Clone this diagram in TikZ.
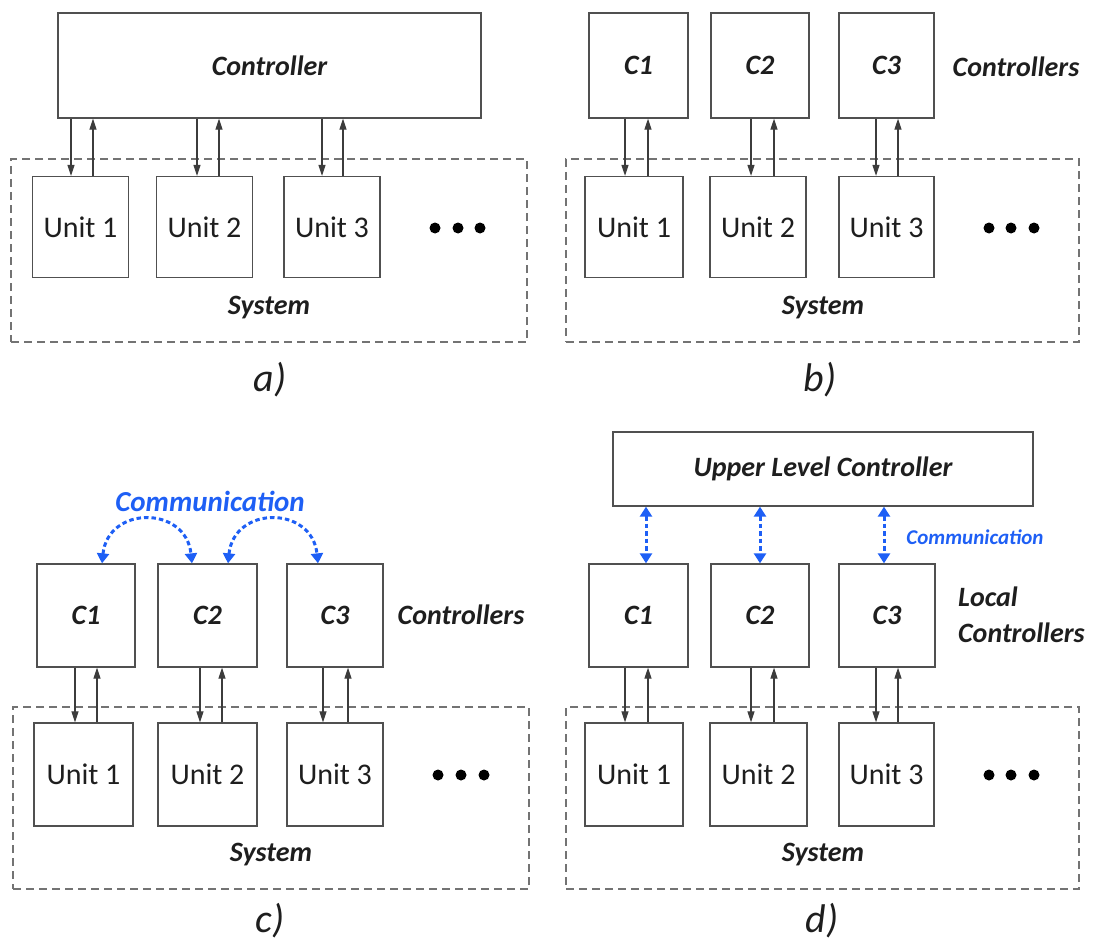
\documentclass[tikz,border=0pt]{standalone}
\usepackage{fontspec}
\setmainfont{Carlito}
\usetikzlibrary{arrows.meta}
\definecolor{boxc}{RGB}{80,80,80}
\definecolor{arrc}{RGB}{60,60,60}
\definecolor{dashc}{RGB}{115,115,115}
\definecolor{commc}{RGB}{30,95,245}
\definecolor{txtc}{RGB}{30,30,30}
\newcommand{\ctrlunit}[4]{%
  \coordinate (tmpd) at ([xshift=#3]#2.north);
  \draw[sigarrow] (tmpd |- #1.south) -- (tmpd);
  \coordinate (tmpu) at ([xshift=#4]#2.north);
  \draw[sigarrow] (tmpu) -- (tmpu |- #1.south);
}
\tikzset{
  unitbox/.style={draw=boxc, line width=1.3pt, minimum width=96pt, minimum height=101pt, inner sep=0pt, font=\fontsize{30}{34}\selectfont, text=txtc},
  ctrlbox/.style={draw=boxc, line width=1.3pt, minimum width=97pt, minimum height=104pt, inner sep=0pt, font=\fontsize{28}{34}\selectfont\bfseries\itshape, text=txtc},
  sysbox/.style={draw=dashc, line width=1.3pt, dash pattern=on 8pt off 5pt, inner sep=0pt},
  lbl/.style={font=\fontsize{28}{36}\selectfont\bfseries\itshape, text=txtc, inner sep=0pt},
  panel/.style={font=\fontsize{40}{48}\selectfont\itshape, text=txtc, inner sep=0pt},
  dotm/.style={circle, fill=black, minimum size=11pt, inner sep=0pt},
  sigarrow/.style={draw=arrc, line width=1.2pt, -{Triangle[length=11pt,width=7pt]}},
  comm/.style={draw=commc, line width=3pt, dash pattern=on 4.5pt off 3pt, {Triangle[length=10pt,width=12pt]}-{Triangle[length=10pt,width=12pt]}},
  commtxt/.style={font=\fontsize{29}{34}\selectfont\bfseries\itshape, text=commc, inner sep=0pt}
}
\begin{document}
\begin{tikzpicture}[x=1pt,y=-1pt]
\useasboundingbox (0,0) rectangle (1097,947);

% ---------------- panel a ----------------
\node[sysbox, minimum width=516pt, minimum height=183pt] (sysA) at (269,250.5) {};
\node[ctrlbox, minimum width=423pt, minimum height=105pt] (ctrlA) at (269.5,65.5) {Controller};
\node[unitbox] (ua1) at (80.5,227) {Unit 1};
\node[unitbox] (ua2) at (204.5,227) {Unit 2};
\node[unitbox] (ua3) at (332,227) {Unit 3};
\node[dotm] (da1) at (435,228) {};
\node[dotm] (da2) at (458,228) {};
\node[dotm] (da3) at (480,228) {};
\node[lbl] (sysAl) at (269,308) {System};
\node[panel] (pa) at (270,380) {a)};
\ctrlunit{ctrlA}{ua1}{-9.5pt}{12.5pt}
\ctrlunit{ctrlA}{ua2}{-7.5pt}{14.5pt}
\ctrlunit{ctrlA}{ua3}{-10pt}{11pt}

% ---------------- panel b ----------------
\node[sysbox, minimum width=513pt, minimum height=183pt] (sysB) at (822.5,250.5) {};
\node[ctrlbox, minimum width=99pt, minimum height=105pt] (cb1) at (638.5,65.5) {C1};
\node[ctrlbox, minimum width=98pt, minimum height=105pt] (cb2) at (760,65.5) {C2};
\node[ctrlbox, minimum width=95pt, minimum height=105pt] (cb3) at (886.5,65.5) {C3};
\node[lbl] (ctrlsB) at (1016,67) {Controllers};
\node[unitbox, minimum width=98pt] (ub1) at (634,227) {Unit 1};
\node[unitbox] (ub2) at (758,227) {Unit 2};
\node[unitbox, minimum width=95pt] (ub3) at (886.5,227) {Unit 3};
\node[dotm] (db1) at (989,228) {};
\node[dotm] (db2) at (1011,228) {};
\node[dotm] (db3) at (1034,228) {};
\node[lbl] (sysBl) at (823,308) {System};
\node[panel] (pb) at (820,380) {b)};
\ctrlunit{cb1}{ub1}{-9pt}{14pt}
\ctrlunit{cb2}{ub2}{-7pt}{16pt}
\ctrlunit{cb3}{ub3}{-10.5pt}{11.5pt}

% ---------------- panel c ----------------
\node[sysbox, minimum width=516pt, minimum height=182pt] (sysC) at (271,798) {};
\node[ctrlbox, minimum width=98pt, minimum height=103pt] (cc1) at (86,615.5) {C1};
\node[ctrlbox, minimum width=99pt, minimum height=103pt] (cc2) at (207.5,615.5) {C2};
\node[ctrlbox, minimum width=96pt, minimum height=103pt] (cc3) at (335,615.5) {C3};
\node[lbl] (ctrlsC) at (461,615) {Controllers};
\node[commtxt] (commC) at (210,501) {Communication};
\node[unitbox, minimum width=99pt, minimum height=103pt] (uc1) at (83.5,774.5) {Unit 1};
\node[unitbox, minimum width=99pt, minimum height=103pt] (uc2) at (207.5,774.5) {Unit 2};
\node[unitbox, minimum width=96pt, minimum height=103pt] (uc3) at (335,774.5) {Unit 3};
\node[dotm] (dc1) at (438,775) {};
\node[dotm] (dc2) at (461,775) {};
\node[dotm] (dc3) at (484,775) {};
\node[lbl] (sysCl) at (271,855) {System};
\node[panel] (pc) at (270,921) {c)};
\ctrlunit{cc1}{uc1}{-8.5pt}{13.5pt}
\ctrlunit{cc2}{uc2}{-7.5pt}{14.5pt}
\ctrlunit{cc3}{uc3}{-12pt}{13pt}
\draw[comm] ([xshift=16pt]cc1.north) .. controls +(6,-58) and +(-6,-58) .. ([xshift=-15.5pt]cc2.north);
\draw[comm] ([xshift=20.5pt]cc2.north) .. controls +(6,-58) and +(-6,-58) .. ([xshift=-17pt]cc3.north);

% ---------------- panel d ----------------
\node[sysbox, minimum width=513pt, minimum height=182pt] (sysD) at (822.5,798) {};
\node[ctrlbox, minimum width=420pt, minimum height=74pt] (ulc) at (823,469) {Upper Level Controller};
\node[ctrlbox, minimum width=99pt, minimum height=103pt] (cd1) at (638.5,615.5) {C1};
\node[ctrlbox, minimum width=98pt, minimum height=103pt] (cd2) at (760,615.5) {C2};
\node[ctrlbox, minimum width=96pt, minimum height=103pt] (cd3) at (887,615.5) {C3};
\node[lbl, anchor=west, align=left] (localD) at (958,615) {Local\\Controllers};
\node[commtxt, font=\fontsize{21}{25}\selectfont\bfseries\itshape] (commD) at (975,537) {Communication};
\node[unitbox, minimum width=98pt, minimum height=103pt] (ud1) at (634,774.5) {Unit 1};
\node[unitbox, minimum width=97pt, minimum height=103pt] (ud2) at (758.5,774.5) {Unit 2};
\node[unitbox, minimum width=95pt, minimum height=103pt] (ud3) at (886.5,774.5) {Unit 3};
\node[dotm] (dd1) at (989,775) {};
\node[dotm] (dd2) at (1011,775) {};
\node[dotm] (dd3) at (1034,775) {};
\node[lbl] (sysDl) at (823,855) {System};
\node[panel] (pd) at (822,921) {d)};
\ctrlunit{cd1}{ud1}{-9pt}{14pt}
\ctrlunit{cd2}{ud2}{-7.5pt}{15.5pt}
\ctrlunit{cd3}{ud3}{-10.5pt}{11.5pt}
\coordinate (bd1) at ([xshift=7.5pt]cd1.north);
\coordinate (bd2) at ([xshift=0pt]cd2.north);
\coordinate (bd3) at ([xshift=-3pt]cd3.north);
\draw[comm] (bd1 |- ulc.south) -- (bd1);
\draw[comm] (bd2 |- ulc.south) -- (bd2);
\draw[comm] (bd3 |- ulc.south) -- (bd3);
\end{tikzpicture}
\end{document}
